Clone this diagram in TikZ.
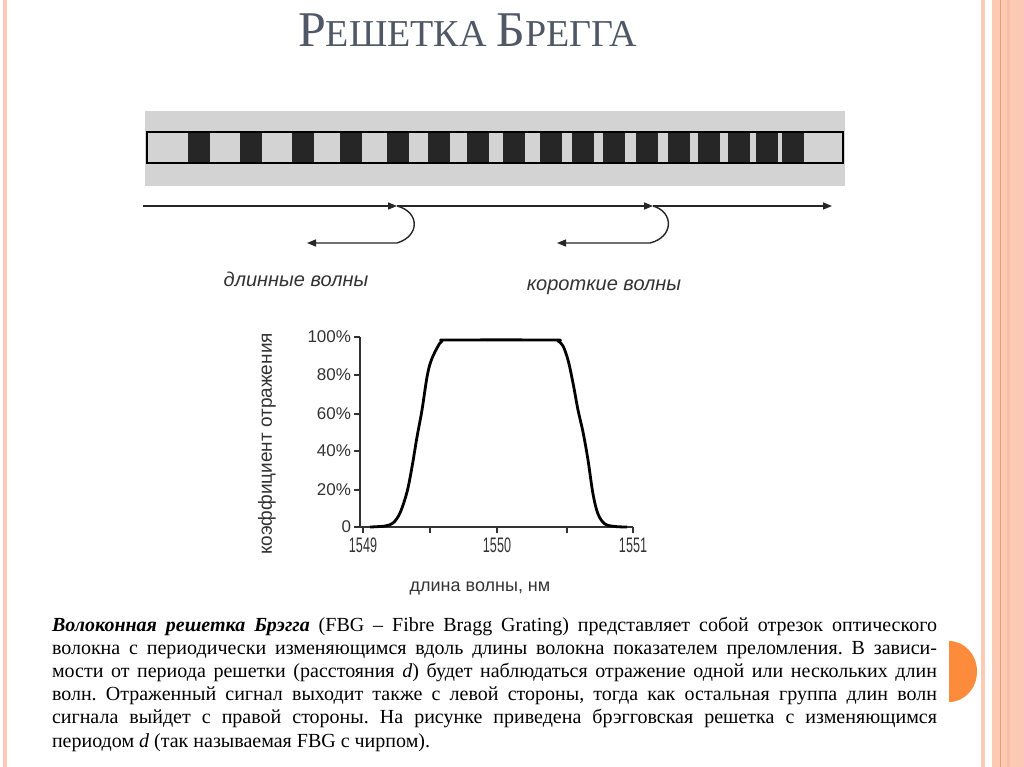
\documentclass[tikz,border=0pt]{standalone}
\usepackage{fontspec}
\usepackage{graphicx}
\setmainfont{Liberation Serif}
\setsansfont{Liberation Sans}
\usetikzlibrary{arrows.meta,positioning}
\definecolor{salmon}{HTML}{FBC9B4}
\definecolor{salmondeep}{HTML}{F9BEA6}
\definecolor{rimline}{HTML}{F29A6C}
\definecolor{accent}{HTML}{FD8B3C}
\definecolor{titlegray}{HTML}{505866}
\definecolor{fibregray}{HTML}{D3D3D3}
\definecolor{notchdark}{HTML}{262626}
\definecolor{plotgray}{HTML}{333333}
\newcommand\smcword[2]{{\fontsize{50}{54}\selectfont #1}{\fontsize{38}{42}\selectfont #2}}
\newcommand\fullline[1]{\hbox to 885pt{#1}}
\newcommand\narrow[1]{\scalebox{0.6}[1]{#1}}
\frenchspacing

\begin{document}
\begin{tikzpicture}[x=1pt, y=-1pt,
    every node/.style={inner sep=0pt, outer sep=0pt},
    arr/.style={-{Triangle[length=9pt,width=7pt]}, line width=1.4pt, black!85},
    wavelbl/.style={font=\fontsize{20}{24}\selectfont\sffamily\itshape, text=plotgray, anchor=base},
    ticklbl/.style={font=\fontsize{17}{20}\selectfont\sffamily, text=plotgray, anchor=east},
    numlbl/.style={font=\fontsize{21}{24}\selectfont\sffamily, text=plotgray, anchor=base},
    axlbl/.style={font=\fontsize{18}{22}\selectfont\sffamily, text=plotgray},
    para/.style={font=\fontsize{20}{23}\selectfont, anchor=base west}
  ]
    \useasboundingbox (0,0) rectangle (1024,767);
    \fill[white] (0,0) rectangle (1024,767);
    \fill[salmon] (3,0) rectangle (7,767);
    \fill[salmon] (981,0) rectangle (985,767);
    \fill[salmon] (992,0) rectangle (1024,767);
    \fill[salmondeep] (1007,0) rectangle (1010,767);
    \draw[rimline, line width=1pt] (1000,0) -- (1000,767);
    \begin{scope}
      \clip (949,600) rectangle (1000,740);
      \fill[accent] (949,671.5) ellipse [x radius=28, y radius=30.5];
    \end{scope}

    \node[anchor=base west, text=titlegray, font=\fontsize{40}{44}\selectfont] (title) at (298,47) {\smcword{Р}{ЕШЕТКА} \smcword{Б}{РЕГГА}};

    \fill[fibregray] (145,111) rectangle (845,186);
    \foreach \x in {188,240,292,340,387,428,467,503,540,572,603,636,668,698,728,756,782}
      \fill[notchdark] (\x,132) rectangle ++(22,31);
    \draw[black, line width=1.5pt] (147,132) rectangle (843,163);

    \coordinate (in) at (143,206);
    \coordinate (refl1) at (397,206);
    \coordinate (refl2) at (653,206);
    \coordinate (out) at (832,206);
    \coordinate (turn1) at (397,243);
    \coordinate (turn2) at (650,243);
    \coordinate (back1) at (307,243);
    \coordinate (back2) at (557,243);
    \draw[arr] (in) -- (refl1);
    \draw[arr] (refl1) -- (refl2);
    \draw[arr] (refl2) -- (out);
    \draw[arr] (refl1) .. controls (420,212) and (420,236) .. (turn1) -- (back1);
    \draw[arr] (refl2) .. controls (674,212) and (674,237) .. (turn2) -- (back2);
    \node[wavelbl] (longw) at (296,286) {длинные волны};
    \node[wavelbl] (shortw) at (604,290) {короткие волны};

    \draw[plotgray, line width=1.5pt] (360,337) -- (360,527) -- (633,527);
    \foreach \y/\v in {337/100\%,375/80\%,414/60\%,451/40\%,490/20\%,527/0} {
      \draw[plotgray, line width=1.2pt] (354,\y) -- (360,\y);
      \node[ticklbl] at (351,\y) {\v};
    }
    \foreach \x in {363,430,497,567,633}
      \draw[plotgray, line width=1.2pt] (\x,527) -- (\x,533);
    \node[numlbl] (n1549) at (363,552) {\narrow{1549}};
    \node[numlbl] (n1550) at (497,552) {\narrow{1550}};
    \node[numlbl] (n1551) at (633,552) {\narrow{1551}};
    \node[axlbl, anchor=base] (xtitle) at (480,591) {длина волны, нм};
    \node[axlbl, font=\fontsize{19}{22}\selectfont\sffamily, rotate=90] (ytitle) at (267,444) {коэффициент отражения};
    \draw[black, line width=2.8pt, line join=round] plot[smooth, tension=0.55] coordinates {
      (370,527) (385,526) (393,523) (400,513) (407,492) (412,467) (417,437)
      (422,410) (427,377) (431,361) (437,348) (442,341) (450,340) (552,340)
      (558,341) (563,346) (568,360) (573,383) (578,410) (583,432) (588,460)
      (593,494) (598,514) (605,524) (615,526.5) (627,527)};

    \node[para] (p1) at (52,631) {\fullline{\textbf{\textit{Волоконная решетка Брэгга}} (FBG – Fibre Bragg Grating) представляет собой отрезок оптического}};
    \node[para] (p2) at (52,654) {\fullline{волокна с периодически изменяющимся вдоль длины волокна показателем преломления. В зависи-}};
    \node[para] (p3) at (52,677) {\fullline{мости от периода решетки (расстояния \textit{d}) будет наблюдаться отражение одной или нескольких длин}};
    \node[para] (p4) at (52,700) {\fullline{волн. Отраженный сигнал выходит также с левой стороны, тогда как остальная группа длин волн}};
    \node[para] (p5) at (52,723) {\fullline{сигнала выйдет с правой стороны. На рисунке приведена брэгговская решетка с изменяющимся}};
    \node[para] (p6) at (52,747) {периодом \textit{d} (так называемая FBG с чирпом).};
\end{tikzpicture}
\end{document}
